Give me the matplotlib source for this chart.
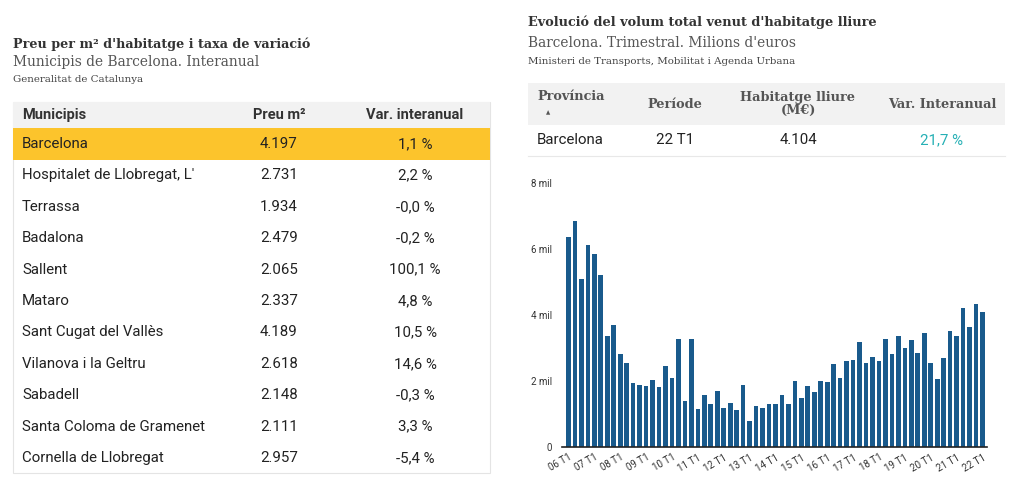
import matplotlib
matplotlib.use("Agg")
import matplotlib.pyplot as plt
from matplotlib.patches import Rectangle

# left table data
municipis = ["Barcelona", "Hospitalet de Llobregat, L'", "Terrassa", "Badalona", "Sallent",
             "Mataro", "Sant Cugat del Vallès", "Vilanova i la Geltru", "Sabadell",
             "Santa Coloma de Gramenet", "Cornella de Llobregat"]
preu_m2 = [4197, 2731, 1934, 2479, 2065, 2337, 4189, 2618, 2148, 2111, 2957]
var_interanual = [1.1, 2.2, -0.0, -0.2, 100.1, 4.8, 10.5, 14.6, -0.3, 3.3, -5.4]

# right summary row
provincia = "Barcelona"
periode = "22 T1"
habitatge_lliure = 4104
var_provincia = 21.7

# quarterly volume, millions of euros, 06 T1 .. 22 T1
trimestres = [f"{y:02d} T{q}" for y in range(6, 23) for q in range(1, 5)][:65]
volum = [6380, 6850, 5090, 6130,
         5850, 5210, 3370, 3690,
         2830, 2540, 1920, 1880,
         1840, 2040, 1800, 2450,
         2100, 3280, 1390, 3270,
         1140, 1570, 1310, 1690,
         1190, 1340, 1110, 1880,
         780, 1240, 1190, 1300,
         1300, 1570, 1300, 2000,
         1480, 1840, 1650, 2000,
         1970, 2500, 2090, 2610,
         2640, 3190, 2530, 2730,
         2610, 3280, 2830, 3350,
         2990, 3240, 2860, 3450,
         2550, 2050, 2700, 3520,
         3370, 4220, 3650, 4330,
         4104]
y_ticks = [0, 2000, 4000, 6000, 8000]
y_tick_labels = ["0", "2 mil", "4 mil", "6 mil", "8 mil"]

W, H = 1024, 492
SERIF = "DejaVu Serif"
SANS = "Roboto"


def num(v):
    return f"{v:,}".replace(",", ".")


def pct(v):
    return f"{v:.1f} %".replace(".", ",")


fig = plt.figure(figsize=(W / 100, H / 100), dpi=100)
fig.patch.set_facecolor("white")

# overlay in pixel coordinates for tables and titles
ov = fig.add_axes([0, 0, 1, 1])
ov.set_xlim(0, W)
ov.set_ylim(H, 0)
ov.axis("off")

# ---- left block ----
ov.text(13, 44, "Preu per m² d'habitatge i taxa de variació", fontfamily=SERIF,
        fontweight="bold", fontsize=9.2, color="#333333", va="center")
ov.text(13, 62, "Municipis de Barcelona. Interanual", fontfamily=SERIF,
        fontsize=9.9, color="#555555", va="center")
ov.text(13, 79, "Generalitat de Catalunya", fontfamily=SERIF, fontsize=7.4,
        color="#444444", va="center")

ov.add_patch(Rectangle((13, 102), 477, 371, facecolor="white", edgecolor="#e4e4e4", lw=0.8))
ov.add_patch(Rectangle((13, 102), 477, 26, facecolor="#f2f2f2", edgecolor="none"))
ov.add_patch(Rectangle((13, 128), 477, 32, facecolor="#fcc42c", edgecolor="none"))

ov.text(22, 115, "Municipis", fontfamily=SANS, fontweight="bold", fontsize=10.5,
        color="#333333", va="center")
ov.text(279, 115, "Preu m²", fontfamily=SANS, fontweight="bold", fontsize=10.5,
        color="#333333", va="center", ha="center")
ov.text(415, 115, "Var. interanual", fontfamily=SANS, fontweight="bold", fontsize=10.5,
        color="#333333", va="center", ha="center")

for i, (m, p, v) in enumerate(zip(municipis, preu_m2, var_interanual)):
    y = 144 + i * 31.4
    ov.text(22, y, m, fontfamily=SANS, fontsize=10.8, color="#222222", va="center")
    ov.text(279, y, num(p), fontfamily=SANS, fontsize=10.8, color="#222222",
            va="center", ha="center")
    ov.text(415, y, pct(v), fontfamily=SANS, fontsize=10.8, color="#222222",
            va="center", ha="center")

# ---- right block ----
ov.text(528, 22, "Evolució del volum total venut d'habitatge lliure", fontfamily=SERIF,
        fontweight="bold", fontsize=9.3, color="#333333", va="center")
ov.text(528, 43, "Barcelona. Trimestral. Milions d'euros", fontfamily=SERIF,
        fontsize=9.9, color="#555555", va="center")
ov.text(528, 61, "Ministeri de Transports, Mobilitat i Agenda Urbana", fontfamily=SERIF,
        fontsize=7.4, color="#444444", va="center")

ov.add_patch(Rectangle((528, 83), 477, 42, facecolor="#f2f2f2", edgecolor="none"))
hdr = dict(fontfamily=SERIF, fontweight="bold", fontsize=9.3, color="#555555")
ov.text(537, 97, "Província", va="center", **hdr)
ov.text(548, 113, "▲", fontfamily="DejaVu Sans", fontsize=4, color="#555555",
        va="center", ha="center")
ov.text(675, 104, "Període", va="center", ha="center", **hdr)
ov.text(798, 104, "Habitatge lliure\n(M€)", va="center", ha="center",
        linespacing=0.95, **hdr)
ov.text(942, 104, "Var. Interanual", va="center", ha="center", **hdr)

ov.text(537, 140, provincia, fontfamily=SANS, fontsize=10.8, color="#222222", va="center")
ov.text(675, 140, periode, fontfamily=SANS, fontsize=10.8, color="#222222",
        va="center", ha="center")
ov.text(798, 140, num(habitatge_lliure), fontfamily=SANS, fontsize=10.8, color="#222222",
        va="center", ha="center")
ov.text(942, 140, pct(var_provincia), fontfamily=SANS, fontsize=10.8, color="#26b0b5",
        va="center", ha="center")
ov.plot([528, 1005], [156, 156], color="#e8e8e8", lw=0.8)

# ---- bar chart ----
ax = fig.add_axes([562 / W, (H - 446.7) / H, (987 - 562) / W, (446.7 - 183.3) / H])
x = range(len(volum))
ax.bar(x, volum, width=0.72, color="#195a8c")
ax.set_xlim(-1, 64.7)
ax.set_ylim(0, 8000)
ax.set_yticks(y_ticks)
ax.set_yticklabels(y_tick_labels)
ax.set_xticks(list(x)[::4])
ax.set_xticklabels(trimestres[::4], rotation=30, ha="right", rotation_mode="anchor")
ax.tick_params(length=0, labelsize=7, labelcolor="#333333")
ax.tick_params(axis="y", pad=7)
ax.tick_params(axis="x", pad=4)
for s in ["top", "right", "left"]:
    ax.spines[s].set_visible(False)
ax.spines["bottom"].set_color("#222222")
ax.spines["bottom"].set_linewidth(1.2)
for lbl in ax.get_xticklabels() + ax.get_yticklabels():
    lbl.set_fontfamily(SANS)

fig.savefig("out.png", dpi=100, facecolor="white")
